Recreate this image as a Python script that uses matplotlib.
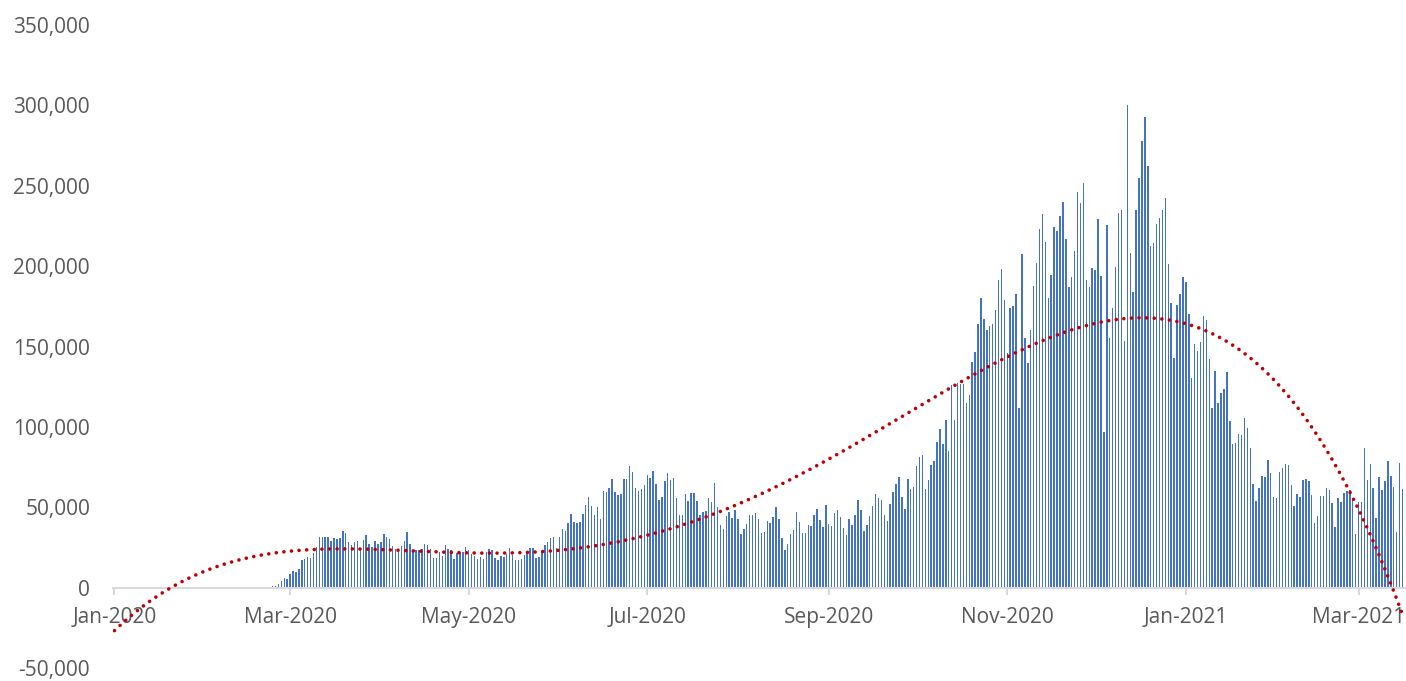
import numpy as np
import pandas as pd
import matplotlib
matplotlib.use("Agg")
import matplotlib.pyplot as plt
import matplotlib.dates as mdates
from matplotlib.ticker import FuncFormatter

plt.rcParams['font.family'] = ['Open Sans', 'DejaVu Sans']

# daily new cases (thousands)
start_date = "2020-01-01"
no_cases_days = 52  # flat zero from Jan 1 to Feb 21
cases_k = [
    0.4, 0.5, 1.0, 1.2, 2.3, 3.9, 5.8, 5.6, 8.3, 10.5,
    9.9, 11.6, 17.4, 18.0, 19.0, 18.4, 21.7, 25.0, 31.6, 31.6,
    31.8, 31.8, 29.3, 30.8, 30.2, 30.6, 35.3, 33.9, 28.5, 26.7,
    28.3, 29.3, 24.6, 29.6, 32.5, 27.3, 25.2, 29.1, 26.9, 28.5,
    33.3, 31.8, 30.0, 26.0, 24.0, 23.8, 26.0, 28.9, 34.5, 26.9,
    23.6, 23.6, 23.6, 24.0, 26.9, 26.5, 24.2, 18.2, 18.6, 22.3,
    19.8, 26.3, 24.2, 23.6, 18.0, 21.7, 22.3, 22.1, 25.2, 23.2,
    20.7, 19.4, 18.0, 18.8, 18.0, 21.9, 24.0, 23.2, 18.4, 17.0,
    19.6, 19.0, 20.9, 24.8, 20.0, 17.4, 17.4, 18.0, 20.5, 22.1,
    24.4, 24.8, 18.6, 19.2, 22.1, 26.5, 28.1, 31.0, 31.6, 24.6,
    31.6, 36.6, 35.3, 39.9, 45.7, 40.9, 40.3, 40.9, 45.9, 51.5,
    56.2, 50.8, 45.3, 50.0, 42.8, 60.1, 59.7, 62.0, 67.6, 59.7,
    57.7, 58.3, 67.6, 67.6, 75.4, 71.7, 62.0, 59.9, 61.4, 64.1,
    70.1, 68.0, 72.8, 64.5, 54.2, 56.2, 66.1, 71.3, 67.0, 68.2,
    55.6, 45.3, 45.3, 58.1, 53.7, 58.9, 58.9, 53.7, 45.3, 47.3,
    47.7, 55.6, 53.1, 64.9, 50.0, 38.7, 36.2, 44.4, 46.9, 43.4,
    48.4, 42.4, 33.5, 36.2, 39.7, 44.9, 44.9, 46.5, 42.4, 34.1,
    34.9, 41.3, 40.5, 43.8, 50.0, 42.4, 30.8, 23.2, 26.9, 33.5,
    36.0, 47.3, 40.7, 34.1, 34.1, 39.1, 38.4, 44.9, 49.0, 41.8,
    37.8, 51.7, 39.3, 38.4, 46.5, 48.0, 44.0, 37.2, 32.9, 43.0,
    39.1, 45.3, 54.4, 48.2, 35.3, 39.1, 44.6, 50.6, 58.1, 55.8,
    54.4, 45.3, 41.3, 51.9, 59.3, 64.3, 68.6, 56.4, 49.0, 67.4,
    61.4, 62.8, 75.9, 81.4, 82.5, 61.6, 67.0, 76.3, 79.0, 90.7,
    98.6, 89.3, 104.4, 84.7, 125.9, 104.2, 127.5, 126.9, 126.9, 114.7,
    120.1, 140.4, 146.3, 164.3, 180.0, 167.4, 160.0, 162.5, 163.7, 172.8,
    191.2, 198.0, 179.0, 146.1, 174.2, 175.3, 182.9, 111.8, 207.7, 155.0,
    139.7, 160.0, 187.9, 202.2, 223.2, 232.5, 215.2, 180.4, 194.5, 224.3,
    222.0, 231.1, 239.8, 217.0, 187.3, 193.3, 209.6, 246.2, 239.4, 251.6,
    191.6, 187.3, 198.6, 197.4, 229.2, 193.9, 97.1, 225.7, 155.0, 174.2,
    199.7, 233.2, 235.2, 153.2, 300.1, 208.4, 184.0, 234.8, 255.1, 277.8,
    292.7, 262.3, 212.7, 214.6, 226.3, 229.9, 235.2, 242.3, 201.3, 177.1,
    143.0, 176.1, 182.7, 193.5, 190.0, 170.3, 130.6, 151.3, 147.2, 153.0,
    168.9, 166.2, 142.0, 111.6, 134.8, 114.7, 121.1, 123.4, 134.1, 103.6,
    89.3, 89.9, 95.3, 94.7, 105.4, 99.2, 86.6, 64.5, 53.7, 62.2,
    69.7, 69.0, 79.2, 71.1, 56.4, 55.6, 71.9, 74.4, 76.9, 76.5,
    63.9, 50.6, 58.3, 56.6, 66.8, 67.4, 66.1, 57.7, 40.5, 44.4,
    57.0, 57.3, 62.0, 60.8, 52.7, 37.8, 56.0, 53.3, 58.7, 60.4,
    61.0, 54.6, 33.3, 53.1, 53.1, 86.6, 67.0, 76.9, 61.8, 43.4,
    68.8, 60.8, 66.6, 78.5, 69.5, 62.4, 34.5, 77.3, 61.4,
]

values = np.array([0.0] * no_cases_days + cases_k) * 1000
dates = pd.date_range(start_date, periods=len(values), freq="D")
x = mdates.date2num(dates)

# Excel-style polynomial trendline
trend = np.polynomial.Polynomial.fit(x, values, 4)

fig = plt.figure(figsize=(14.06, 6.81), dpi=100)
ax = fig.add_axes([113 / 1406, 13 / 681, 1 - 113 / 1406, 643 / 681])

ax.bar(x, values, width=0.5, color="#4472C4", linewidth=0)
ax.plot(x, trend(x), color="#C00000", linewidth=2.6,
        linestyle=(0, (0.01, 2.1)), dash_capstyle="round", zorder=3)

ax.set_ylim(-50000, 350000)
ax.set_yticks(np.arange(-50000, 350001, 50000))
ax.yaxis.set_major_formatter(FuncFormatter(lambda v, p: f"{int(v):,}"))
ax.set_xlim(x[0] - 0.5, x[0] + 441.2)

tick_dates = pd.date_range("2020-01-01", "2021-03-01", freq="2MS")
ax.set_xticks(mdates.date2num(tick_dates))
ax.xaxis.set_major_formatter(mdates.DateFormatter("%b-%Y"))

for s in ["top", "right", "left"]:
    ax.spines[s].set_visible(False)
ax.spines["bottom"].set_position(("data", 0))
ax.spines["bottom"].set_color("#D9D9D9")
ax.spines["bottom"].set_linewidth(1.5)

ax.tick_params(axis="y", length=0, pad=16.5, labelsize=15, labelcolor="#595959")
ax.tick_params(axis="x", length=5, width=1.5, color="#D9D9D9", pad=9,
               labelsize=15, labelcolor="#595959")

fig.savefig("out.png", dpi=100)
